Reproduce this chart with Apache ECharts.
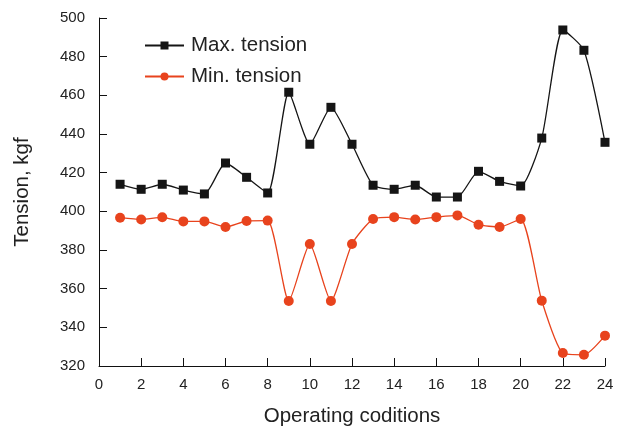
<!DOCTYPE html>
<html>
<head>
<meta charset="utf-8">
<script src="https://cdn.jsdelivr.net/npm/echarts@6/dist/echarts.min.js"></script>
<style>html,body{margin:0;padding:0;background:#fff}#c{width:623px;height:433px}</style>
</head>
<body>
<div id="c"></div>
<script>
const conditions = [1,2,3,4,5,6,7,8,9,10,11,12,13,14,15,16,17,18,19,20,21,22,23,24];
const maxTension = [414,411.4,414,411,409,425,417.6,409.5,461.6,434.7,453.8,434.7,413.5,411.4,413.5,407.4,407.4,420.7,415.5,413.1,437.9,493.8,483.3,435.7];
const minTension = [396.7,395.8,396.9,394.8,394.8,391.9,395,395.2,353.6,383.1,353.6,383.1,396,397,395.8,397,397.9,393.1,391.9,396,353.8,326.7,325.8,335.7];
const yTicks = {min:320, max:500, step:20};
const xTicks = {min:0, max:24, step:2};

const font = 'Liberation Sans, Arial, sans-serif';
const txt = '#222';
const chart = echarts.init(document.getElementById('c'), null, {renderer:'canvas'});
chart.setOption({
  animation:false,
  backgroundColor:'#fff',
  grid:{left:99, right:18, top:18, bottom:67, containLabel:false},
  legend:{
    orient:'vertical', left:139, top:30, itemWidth:39, itemHeight:10, itemGap:10,
    textStyle:{fontFamily:font, fontSize:20.5, color:txt, lineHeight:21, padding:[0,0,0,2]},
    data:['Max. tension','Min. tension']
  },
  xAxis:{
    type:'value', min:xTicks.min, max:xTicks.max, interval:xTicks.step,
    name:'Operating coditions', nameLocation:'middle', nameGap:40,
    nameTextStyle:{fontFamily:font, fontSize:20.5, color:txt},
    axisLine:{show:true, lineStyle:{color:'#111', width:1}},
    axisTick:{show:true, inside:true, length:8, lineStyle:{color:'#111'}},
    axisLabel:{fontFamily:font, fontSize:15, color:txt, margin:11},
    splitLine:{show:false}
  },
  yAxis:{
    type:'value', min:yTicks.min, max:yTicks.max, interval:yTicks.step,
    name:'Tension, kgf', nameLocation:'middle', nameGap:66,
    nameTextStyle:{fontFamily:font, fontSize:20.5, color:txt},
    axisLine:{show:true, lineStyle:{color:'#111', width:1}},
    axisTick:{show:true, inside:true, length:8, lineStyle:{color:'#111'}},
    axisLabel:{fontFamily:font, fontSize:15, color:txt, margin:14},
    splitLine:{show:false}
  },
  series:[
    {name:'Max. tension', type:'line', smooth:0.2,
     data:conditions.map((c,i)=>[c,maxTension[i]]),
     symbol:'rect', symbolSize:9,
     lineStyle:{color:'#151515', width:1.3},
     itemStyle:{color:'#151515'}},
    {name:'Min. tension', type:'line', smooth:0.2,
     data:conditions.map((c,i)=>[c,minTension[i]]),
     symbol:'circle', symbolSize:10,
     lineStyle:{color:'#e8431d', width:1.3},
     itemStyle:{color:'#e8431d'}}
  ]
});
</script>
</body>
</html>
